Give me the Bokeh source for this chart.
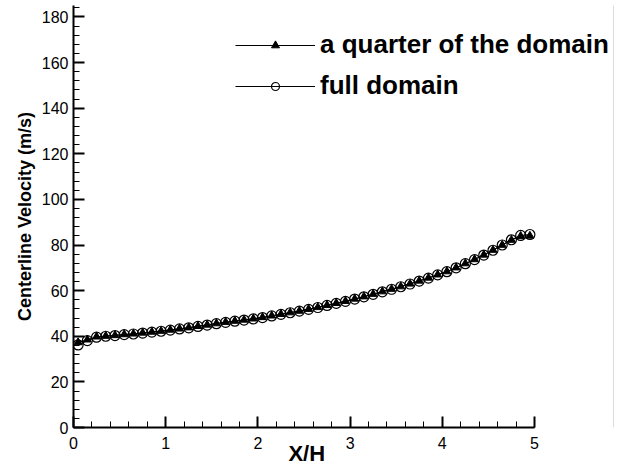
from bokeh.plotting import figure
from bokeh.models import Legend, LegendItem, Range1d, FixedTicker, Span
from bokeh.embed import file_html
from bokeh.resources import INLINE

# X/H positions
x_pos = [0.05, 0.15, 0.25, 0.35, 0.45, 0.55, 0.65, 0.75, 0.85, 0.95,
         1.05, 1.15, 1.25, 1.35, 1.45, 1.55, 1.65, 1.75, 1.85, 1.95,
         2.05, 2.15, 2.25, 2.35, 2.45, 2.55, 2.65, 2.75, 2.85, 2.95,
         3.05, 3.15, 3.25, 3.35, 3.45, 3.55, 3.65, 3.75, 3.85, 3.95,
         4.05, 4.15, 4.25, 4.35, 4.45, 4.55, 4.65, 4.75, 4.85, 4.95]

# full domain (circles)
v_full = [36.2, 38.1, 39.6, 40.0, 40.3, 40.7, 41.0, 41.4, 41.8, 42.2,
          42.7, 43.2, 43.7, 44.3, 44.9, 45.5, 46.1, 46.6, 47.1, 47.6,
          48.2, 48.9, 49.6, 50.3, 51.0, 51.8, 52.6, 53.5, 54.4, 55.3,
          56.3, 57.3, 58.4, 59.5, 60.6, 61.7, 62.9, 64.2, 65.5, 66.9,
          68.3, 70.0, 71.8, 73.6, 75.6, 77.7, 80.0, 82.3, 84.2, 84.6]

# a quarter of the domain (triangles)
v_quarter = [37.3, 38.5, 39.8, 40.1, 40.4, 40.8, 41.1, 41.5, 41.9, 42.3,
             42.8, 43.3, 43.8, 44.4, 45.0, 45.6, 46.2, 46.7, 47.2, 47.7,
             48.3, 49.0, 49.7, 50.4, 51.1, 51.9, 52.7, 53.6, 54.5, 55.4,
             56.4, 57.4, 58.5, 59.6, 60.7, 61.8, 63.0, 64.3, 65.6, 67.0,
             68.4, 70.1, 71.9, 73.7, 75.7, 77.8, 80.0, 82.2, 83.9, 84.0]

x_ticks = [0, 1, 2, 3, 4, 5]
y_ticks = [0, 20, 40, 60, 80, 100, 120, 140, 160, 180]

FONT = "Liberation Sans"
NBSP = "\u00a0"

# frame spans the whole width so the legend is not clipped; the x axis is
# bounded to 0..5 like the reference
p = figure(width=619, height=468, output_backend="svg", toolbar_location=None,
           x_range=Range1d(0, 5.922), y_range=Range1d(0, 185))
p.min_border_left = 73
p.min_border_right = 0
p.min_border_top = 5
p.min_border_bottom = 39
p.outline_line_color = None
p.xgrid.visible = False
p.ygrid.visible = False
p.background_fill_color = "white"
p.border_fill_color = "white"

lq = p.line(x_pos, v_quarter, line_color="black", line_width=1)
sq = p.scatter(x_pos, v_quarter, marker="triangle", size=8,
               fill_color="black", line_color="black")
lf = p.line(x_pos, v_full, line_color="black", line_width=1)
sf = p.scatter(x_pos, v_full, marker="circle", size=10,
               fill_color=None, line_color="black", line_width=1.2)

p.add_layout(Span(location=5.857, dimension="height",
                  line_color="#dcdcdc", line_width=1))

for ax in (p.xaxis[0], p.yaxis[0]):
    ax.axis_line_width = 2
    ax.axis_line_color = "black"
    ax.major_tick_line_color = "black"
    ax.major_tick_line_width = 2
    ax.minor_tick_line_color = "black"
    ax.minor_tick_line_width = 1
    ax.major_tick_in = 11
    ax.major_tick_out = 0
    ax.minor_tick_in = 6
    ax.minor_tick_out = 0
    ax.major_label_text_font = FONT
    ax.major_label_text_font_size = "16px"
    ax.major_label_text_color = "black"
    ax.axis_label_text_font = FONT
    ax.axis_label_text_font_style = "bold"
    ax.axis_label_text_color = "black"

p.xaxis[0].bounds = (0, 5)
p.xaxis[0].ticker = FixedTicker(ticks=x_ticks,
                                minor_ticks=[i * 0.2 for i in range(26)])
p.yaxis[0].ticker = FixedTicker(ticks=y_ticks,
                                minor_ticks=[i * 4 for i in range(47)])
# trailing no-break spaces shift the centred label over the 0..5 axis
p.xaxis[0].axis_label = "X/H" + NBSP * 13
p.xaxis[0].axis_label_text_font_size = "22px"
p.xaxis[0].axis_label_standoff = -11
p.xaxis[0].major_label_standoff = 9
p.yaxis[0].axis_label = "Centerline Velocity (m/s)"
p.yaxis[0].axis_label_text_font_size = "18px"
p.yaxis[0].axis_label_standoff = 4
p.yaxis[0].major_label_standoff = 5

legend = Legend(items=[
    LegendItem(label="a quarter of the domain", renderers=[lq, sq]),
    LegendItem(label="full domain", renderers=[lf, sf]),
], location=(162, 326))
legend.background_fill_alpha = 0
legend.border_line_color = None
legend.padding = 5
legend.margin = 0
legend.spacing = 10
legend.glyph_width = 80
legend.glyph_height = 20
legend.label_height = 20
legend.label_standoff = 5
legend.label_text_font = FONT
legend.label_text_font_style = "bold"
legend.label_text_font_size = "26px"
legend.label_text_color = "black"
legend.label_text_baseline = "middle"
p.add_layout(legend, "center")

open("out.html", "w").write(file_html(p, INLINE))
